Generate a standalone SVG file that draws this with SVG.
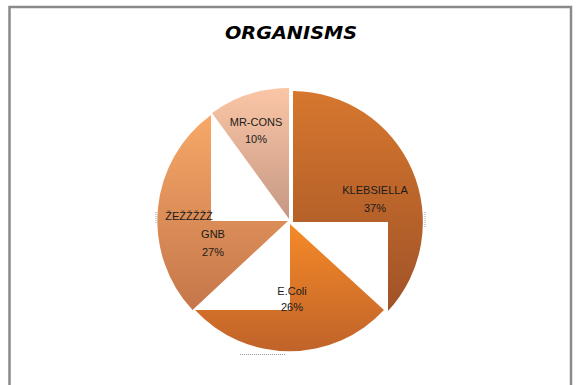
<svg xmlns="http://www.w3.org/2000/svg" width="576" height="385" viewBox="0 0 576 385">
<defs>
<linearGradient id="gK" x1="0" y1="0" x2="0" y2="1"><stop offset="0" stop-color="#D6772E"/><stop offset="1" stop-color="#A05227"/></linearGradient>
<linearGradient id="gE" x1="0" y1="0" x2="0" y2="1"><stop offset="0" stop-color="#F68A28"/><stop offset="1" stop-color="#C0632A"/></linearGradient>
<linearGradient id="gG" x1="0" y1="0" x2="0" y2="1"><stop offset="0" stop-color="#F7A868"/><stop offset="1" stop-color="#C4764A"/></linearGradient>
<linearGradient id="gM" x1="0" y1="0" x2="0" y2="1"><stop offset="0" stop-color="#FBC6A6"/><stop offset="1" stop-color="#C59884"/></linearGradient>
<style>
.lbl{font-family:"Liberation Sans",Arial,sans-serif;font-size:11px;fill:#1a1a1a;text-anchor:middle}
.dots{stroke:#9a9a9a;stroke-width:1;stroke-dasharray:1 1;fill:none}
</style>
</defs>
<rect x="9.5" y="7" width="561.5" height="400" fill="#fff" stroke="#8a8a8a" stroke-width="2.5"/>
<text x="291" y="39" font-family="DejaVu Sans,Verdana,sans-serif" font-size="18" font-weight="bold" font-style="italic" text-anchor="middle" textLength="132" lengthAdjust="spacingAndGlyphs" fill="#000">ORGANISMS</text>
<g id="klebsiella">
<path d="M293,222 L293,91 A131,131 0 0 1 388,311 L388,222 Z" fill="url(#gK)"/>
</g>
<g id="ecoli">
<path d="M290,224 L384,310 A129,129 0 0 1 195,310 L290,310 Z" fill="url(#gE)"/>
</g>
<g id="gnb">
<path d="M288,221 L192.5,310 A131,131 0 0 1 211,115 L211,221 Z" fill="url(#gG)"/>
</g>
<g id="mrcons">
<path d="M289,219 L212,113 A131,131 0 0 1 289,88 Z" fill="url(#gM)"/>
</g>
<g id="marks">
<line class="dots" x1="156" y1="212" x2="156" y2="224"/>
<line class="dots" x1="425" y1="212" x2="425" y2="228"/>
<line class="dots" x1="240" y1="354.5" x2="285" y2="354.5"/>
</g>
<g id="labels">
<text class="lbl" x="256" y="126">MR-CONS</text>
<text class="lbl" x="256" y="143">10%</text>
<text class="lbl" x="375" y="194">KLEBSIELLA</text>
<text class="lbl" x="375" y="212">37%</text>
<text class="lbl" x="189" y="220">ŽEŽŽŽŽŽ</text>
<text class="lbl" x="213" y="238">GNB</text>
<text class="lbl" x="213" y="256">27%</text>
<text class="lbl" x="292" y="295">E.Coli</text>
<text class="lbl" x="292" y="311">26%</text>
</g>
</svg>
